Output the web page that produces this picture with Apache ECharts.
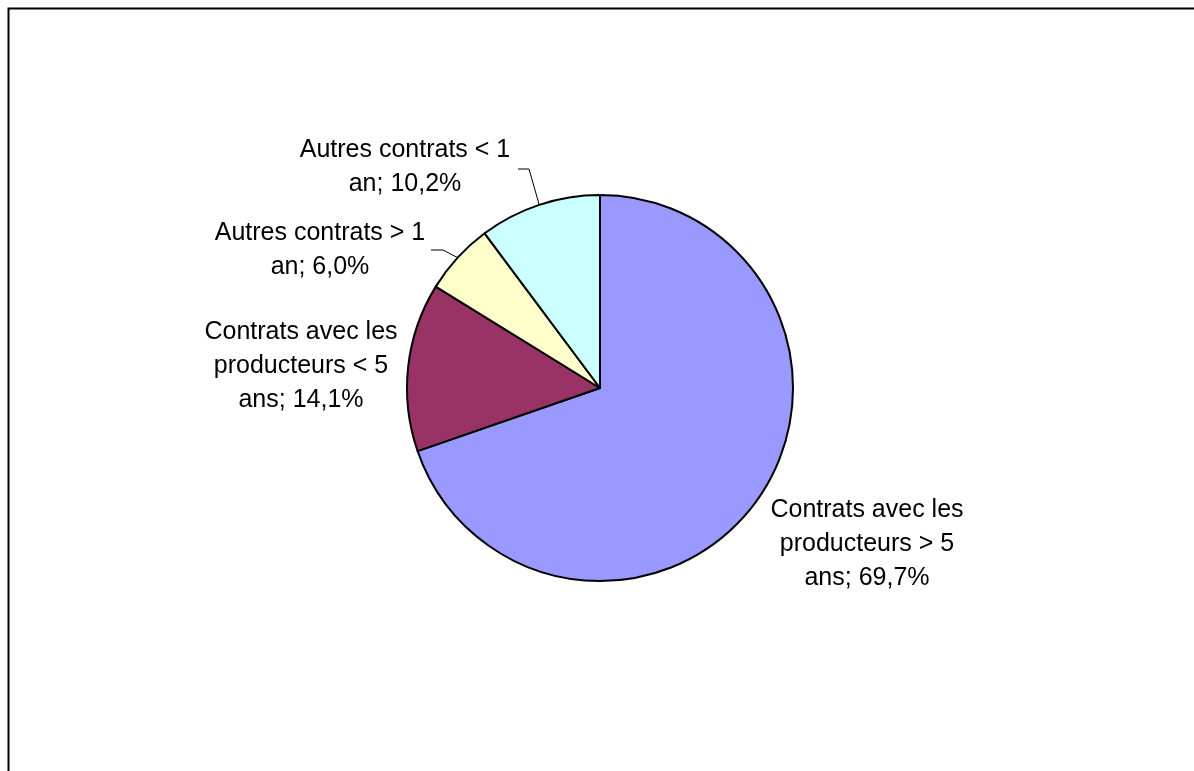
<!DOCTYPE html>
<html><head><meta charset="utf-8">
<script src="https://cdn.jsdelivr.net/npm/echarts@6/dist/echarts.min.js"></script>
<style>html,body{margin:0;padding:0;background:#fff}#c{width:1194px;height:771px}</style>
</head><body><div id="c"></div>
<script>
// Data
const categories = [
  "Contrats avec les\nproducteurs > 5\nans",
  "Contrats avec les\nproducteurs < 5\nans",
  "Autres contrats > 1\nan",
  "Autres contrats < 1\nan"
];
const values = [69.7, 14.1, 6.0, 10.2];

// Styles / layout
const colors = ['#9999FF', '#993366', '#FFFFCC', '#CCFFFF'];
const CX = 600, CY = 388, R = 193;
const labelCenters = [[867, 544], [301, 366], [320, 250], [405, 167]];
const leaderTail = [null, null, [[443, 250], [431, 250]], [[529, 169], [518, 169]]];

const total = values.reduce((a, b) => a + b, 0);
function edgePoint(i) {
  let cum = 0;
  for (let k = 0; k < i; k++) cum += values[k];
  const f = (cum + values[i] / 2) / total;
  const th = 2 * Math.PI * f;
  return [CX + R * Math.sin(th), CY - R * Math.cos(th)];
}

const chart = echarts.init(document.getElementById('c'), null, {renderer: 'canvas'});
chart.setOption({
  animation: false,
  backgroundColor: '#fff',
  graphic: [{
    type: 'rect', left: 6, top: 6, silent: true,
    shape: {x: 0, y: 0, width: 1300, height: 900},
    style: {fill: 'none', stroke: '#000', lineWidth: 2}
  }],
  series: [{
    type: 'pie',
    center: [CX, CY],
    radius: [0, R],
    startAngle: 90,
    clockwise: true,
    avoidLabelOverlap: false,
    emphasis: {disabled: true},
    itemStyle: {borderColor: '#000', borderWidth: 2},
    label: {
      show: true,
      position: 'outside',
      color: '#000',
      fontFamily: 'Liberation Sans, Arial, sans-serif',
      fontSize: 25,
      lineHeight: 34,
      align: 'center',
      formatter: p => p.name + '; ' + p.value.toFixed(1).replace('.', ',') + '%'
    },
    labelLine: {show: true, lineStyle: {color: '#000', width: 1}},
    labelLayout: function (params) {
      const i = params.dataIndex;
      const c = labelCenters[i];
      const out = {x: c[0], y: c[1], align: 'center', verticalAlign: 'middle'};
      if (leaderTail[i]) {
        out.labelLinePoints = [edgePoint(i)].concat(leaderTail[i]);
      }
      return out;
    },
    data: categories.map((n, i) => ({
      name: n,
      value: values[i],
      itemStyle: {color: colors[i]},
      labelLine: {show: !!leaderTail[i]}
    }))
  }]
});
</script>
</body></html>
